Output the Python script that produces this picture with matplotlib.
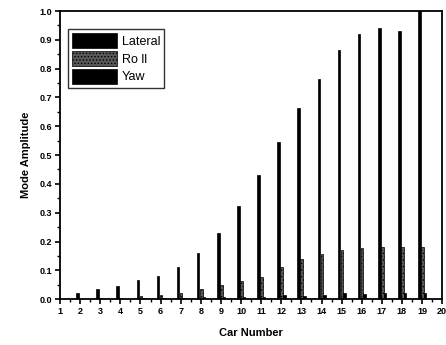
#!/usr/bin/env python3
"""Mode amplitude per car: lateral, roll and yaw components."""
import numpy as np
import matplotlib
matplotlib.use("Agg")
import matplotlib.pyplot as plt
from matplotlib.ticker import MultipleLocator

car_number = list(range(1, 20))
lateral = [0.003, 0.02, 0.035, 0.047, 0.065, 0.08, 0.112, 0.16, 0.23, 0.322,
           0.43, 0.545, 0.665, 0.765, 0.865, 0.922, 0.94, 0.93, 1.0]
roll = [0.001, 0.002, 0.003, 0.005, 0.01, 0.015, 0.022, 0.035, 0.048, 0.063,
        0.078, 0.11, 0.138, 0.158, 0.17, 0.177, 0.18, 0.182, 0.182]
yaw = [0.001, 0.001, 0.001, 0.002, 0.003, 0.004, 0.005, 0.006, 0.007, 0.008,
       0.008, 0.014, 0.012, 0.014, 0.02, 0.018, 0.02, 0.02, 0.02]

plt.rcParams['font.family'] = ['Liberation Sans', 'DejaVu Sans']
plt.rcParams['font.weight'] = 'bold'
plt.rcParams['hatch.color'] = '0.85'
plt.rcParams['hatch.linewidth'] = 0.6

fig = plt.figure(figsize=(4.46, 3.45), dpi=100)
ax = fig.add_axes([0.1345, 0.133, 0.857, 0.835])

x = np.array(car_number, dtype=float)
w = 0.13
ax.bar(x - 0.13, lateral, w, color='black', edgecolor='black', lw=0.5, label='Lateral')
ax.bar(x + 0.02, roll, w, color='0.35', edgecolor='black', lw=0.5, hatch='.....', label='Ro ll')
ax.bar(x + 0.15, yaw, w, color='black', edgecolor='black', lw=0.5, label='Yaw')

ax.set_xlim(1, 20)
ax.set_ylim(0, 1.0)
ax.set_xticks(range(1, 21))
ax.xaxis.set_minor_locator(MultipleLocator(0.5))
ax.yaxis.set_major_locator(MultipleLocator(0.1))
ax.yaxis.set_minor_locator(MultipleLocator(0.05))
ax.yaxis.set_major_formatter(matplotlib.ticker.FormatStrFormatter('%.1f'))
ax.tick_params(which='major', direction='out', length=3.5, width=1.2,
               labelsize=6.5, top=False, right=False, pad=2)
ax.tick_params(which='minor', direction='out', length=2, width=1,
               top=False, right=False)
for s in ax.spines.values():
    s.set_linewidth(1.3)

ax.set_xlabel('Car Number', fontsize=8, fontweight='bold', labelpad=9)
ax.set_ylabel('Mode Amplitude', fontsize=8, fontweight='bold', labelpad=6)

leg = ax.legend(loc='upper left', bbox_to_anchor=(0.015, 0.945), fontsize=9,
                handlelength=3.6, handleheight=1.5, labelspacing=0.2,
                handletextpad=0.4, borderpad=0.3, frameon=True, fancybox=False,
                edgecolor='black', borderaxespad=0.2)
leg.get_frame().set_linewidth(1.0)
for t in leg.get_texts():
    t.set_fontweight('normal')

fig.savefig('out.png', dpi=100)
